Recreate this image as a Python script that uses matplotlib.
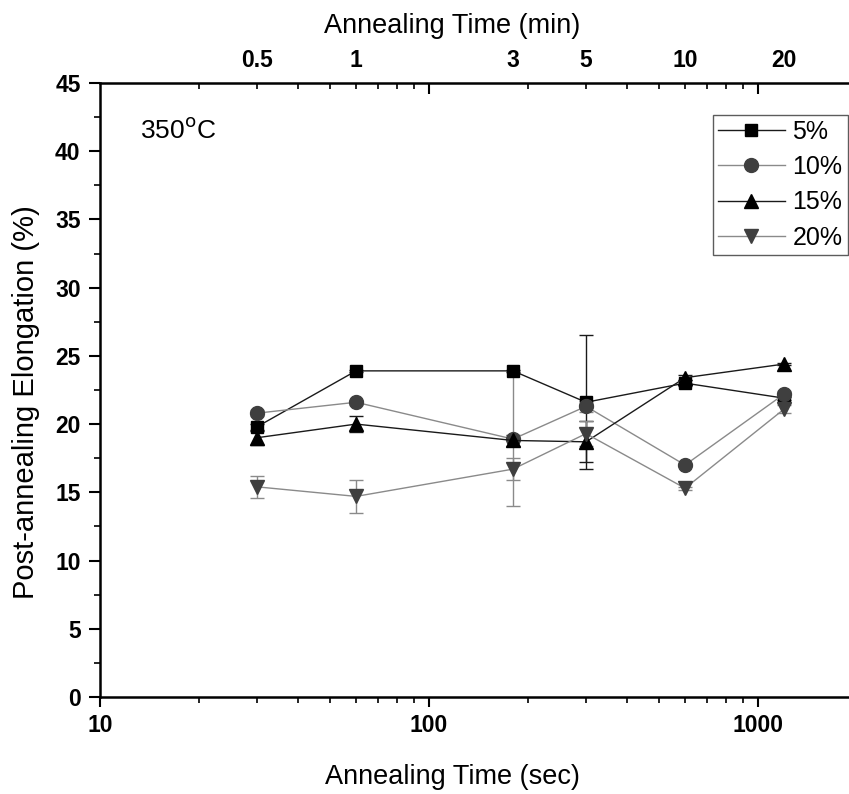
import numpy as np
import matplotlib
matplotlib.use("Agg")
import matplotlib.pyplot as plt
from matplotlib.ticker import LogLocator, NullFormatter, FixedLocator, MultipleLocator

plt.rcParams["font.family"] = ["Liberation Sans", "DejaVu Sans"]

# Annealing time (sec) and matching minutes for the top axis
time_sec = [30, 60, 180, 300, 600, 1200]
time_min_labels = ["0.5", "1", "3", "5", "10", "20"]

labels = ["5%", "10%", "15%", "20%"]

elong_5 = [19.8, 23.9, 23.9, 21.6, 23.0, 21.9]
elong_10 = [20.8, 21.6, 18.9, 21.3, 17.0, 22.2]
elong_15 = [19.0, 20.0, 18.8, 18.7, 23.4, 24.4]
elong_20 = [15.4, 14.7, 16.7, 19.3, 15.3, 21.1]

err_5 = [0.2, 0.1, 0.1, 4.9, 0.2, 0.1]
err_10 = [0.2, 0.2, 4.9, 0.4, 0.1, 0.2]
err_15 = [0.5, 0.6, 0.4, 1.5, 0.2, 0.1]
err_20 = [0.8, 1.2, 0.8, 0.9, 0.1, 0.3]

series = [elong_5, elong_10, elong_15, elong_20]
errors = [err_5, err_10, err_15, err_20]
markers = ["s", "o", "^", "v"]
msizes = [9, 10, 10.5, 10.5]
marker_colors = ["#000000", "#3f3f3f", "#000000", "#3f3f3f"]
line_colors = ["#1a1a1a", "#8a8a8a", "#1a1a1a", "#8a8a8a"]

fig = plt.figure(figsize=(8.49, 7.94), dpi=100)
ax = fig.add_axes([0.1178, 0.1222, 0.8822, 0.7733])

for y, e, m, ms, mc, lc, lab in zip(series, errors, markers, msizes,
                                     marker_colors, line_colors, labels):
    ax.errorbar(
        time_sec, y, yerr=e,
        fmt="none", ecolor=lc, elinewidth=1.0, capsize=5, capthick=1.0, zorder=2
    )
    ax.plot(
        time_sec, y,
        color=lc, linewidth=1.0,
        marker=m, markersize=ms, markerfacecolor=mc, markeredgecolor=mc,
        label=lab, zorder=3
    )

ax.set_xscale("log")
ax.set_xlim(10, 1890)
ax.set_ylim(0, 45)

ax.yaxis.set_major_locator(MultipleLocator(5))
ax.yaxis.set_minor_locator(MultipleLocator(2.5))
ax.xaxis.set_major_locator(FixedLocator([10, 100, 1000]))
ax.xaxis.set_minor_locator(LogLocator(base=10, subs=np.arange(2, 10)))
ax.xaxis.set_minor_formatter(NullFormatter())
ax.set_xticklabels(["10", "100", "1000"])

ax.spines["right"].set_visible(False)
ax.spines["top"].set_visible(False)
for s in ["left", "bottom"]:
    ax.spines[s].set_linewidth(1.8)

ax.tick_params(axis="x", which="major", direction="out", length=7.5, width=1.5,
               labelsize=16.5, pad=5)
ax.tick_params(axis="x", which="minor", direction="out", length=4, width=1.2)
ax.tick_params(axis="y", which="major", direction="out", length=8, width=1.5,
               labelsize=16.5, pad=6)
ax.tick_params(axis="y", which="minor", direction="out", length=4, width=1.2)
for t in ax.get_xticklabels() + ax.get_yticklabels():
    t.set_fontweight("bold")

ax.set_xlabel("Annealing Time (sec)", fontsize=19.5)
ax.xaxis.set_label_coords(0.47, -0.109)
ax.set_ylabel("Post-annealing Elongation (%)", fontsize=21)
ax.yaxis.set_label_coords(-0.080, 0.48)

# top spine with inward log ticks
top_ticks = ax.twiny()
top_ticks.set_xscale("log")
top_ticks.set_xlim(ax.get_xlim())
top_ticks.xaxis.set_major_locator(FixedLocator([100, 1000]))
top_ticks.xaxis.set_minor_locator(LogLocator(base=10, subs=np.arange(2, 10)))
top_ticks.xaxis.set_major_formatter(NullFormatter())
top_ticks.xaxis.set_minor_formatter(NullFormatter())
top_ticks.tick_params(axis="x", which="major", direction="in", length=8, width=1.5)
top_ticks.tick_params(axis="x", which="minor", direction="in", length=4, width=1.2)
for s in ["left", "right", "bottom"]:
    top_ticks.spines[s].set_visible(False)
top_ticks.spines["top"].set_linewidth(1.8)

# minute labels on top
top = ax.twiny()
top.set_xscale("log")
top.set_xlim(ax.get_xlim())
top.xaxis.set_major_locator(FixedLocator(time_sec))
top.xaxis.set_minor_locator(FixedLocator([]))
top.set_xticklabels(time_min_labels, fontsize=16.5, fontweight="bold")
top.tick_params(axis="x", length=0, pad=8)
top.set_xlabel("Annealing Time (min)", fontsize=19.5)
top.xaxis.set_label_coords(0.47, 1.082)
for s in top.spines.values():
    s.set_visible(False)

ax.text(0.053, 0.923, "350$^{\\rm o}$C", transform=ax.transAxes,
        fontsize=19, ha="left", va="center")

leg = ax.legend(loc="upper right", bbox_to_anchor=(0.998, 0.948), fontsize=18,
                frameon=True, fancybox=False, edgecolor="#333333",
                handlelength=2.7, handletextpad=0.3, borderpad=0.2,
                labelspacing=0.45, borderaxespad=0.0)
leg.get_frame().set_linewidth(1.0)

fig.savefig("out.png", dpi=100)
